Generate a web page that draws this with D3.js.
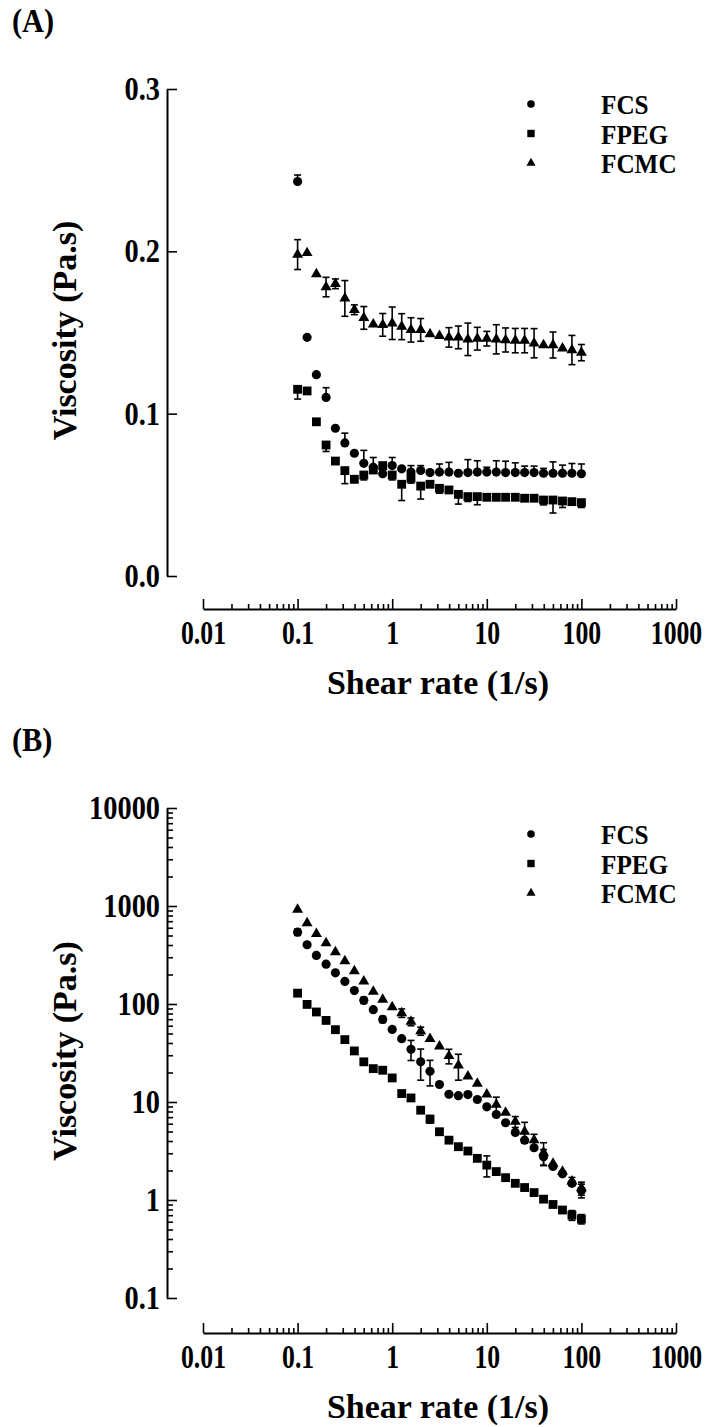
<!DOCTYPE html>
<html>
<head>
<meta charset="utf-8">
<script src="https://cdn.jsdelivr.net/npm/d3@7"></script>
<style>
  body { margin: 0; background: #fff; }
  svg { display: block; font-family: "Liberation Serif", "Times New Roman", serif; font-weight: bold; }
</style>
</head>
<body>
<div id="chart"></div>
<script>
// shear rate sweep, 10 points per decade
const shearRate = [0.1, 0.126, 0.158, 0.2, 0.251, 0.316, 0.398, 0.501, 0.631, 0.794,
  1, 1.26, 1.58, 2, 2.51, 3.16, 3.98, 5.01, 6.31, 7.94,
  10, 12.6, 15.8, 20, 25.1, 31.6, 39.8, 50.1, 63.1, 79.4, 100];
const seriesNames = ["FCS", "FPEG", "FCMC"];
const xTickValues = [0.01, 0.1, 1, 10, 100, 1000];
const xTickLabels = ["0.01", "0.1", "1", "10", "100", "1000"];
const yTicksA = [0, 0.1, 0.2, 0.3];
const yTickLabelsA = ["0.0", "0.1", "0.2", "0.3"];
const yTicksB = [0.1, 1, 10, 100, 1000, 10000];
const yTickLabelsB = ["0.1", "1", "10", "100", "1000", "10000"];

// (A) viscosity, Pa.s
const viscA_FCS = [0.243, 0.147, 0.124, 0.110, 0.091, 0.082, 0.0756, 0.0694, 0.067, 0.063,
  0.068, 0.066, 0.064, 0.065, 0.0637, 0.064, 0.064, 0.0633, 0.0637, 0.064,
  0.064, 0.064, 0.0637, 0.0637, 0.0637, 0.0637, 0.0633, 0.0633, 0.0633, 0.0633, 0.063];
const errA_FCS = [0.004, 0, 0, 0.006, 0, 0.006, 0, 0.008, 0.006, 0,
  0.005, 0, 0.004, 0.003, 0, 0.005, 0.006, 0, 0.008, 0.007,
  0.003, 0.007, 0.007, 0.006, 0.004, 0.004, 0.003, 0.007, 0.005, 0.006, 0.006];
const viscA_FPEG = [0.115, 0.114, 0.095, 0.0807, 0.0708, 0.0649, 0.0596, 0.0622, 0.0653, 0.068,
  0.0622, 0.0565, 0.0602, 0.0554, 0.0565, 0.054, 0.053, 0.0503, 0.0489, 0.0489,
  0.0485, 0.0485, 0.0485, 0.0485, 0.0479, 0.0479, 0.0468, 0.0468, 0.0462, 0.0458, 0.0452];
const errA_FPEG = [0.006, 0, 0, 0.004, 0, 0.008, 0.002, 0.003, 0, 0.003,
  0.003, 0.010, 0.003, 0.008, 0, 0.003, 0, 0.006, 0.003, 0.005,
  0, 0, 0, 0, 0, 0, 0.003, 0.008, 0.004, 0, 0.003];
const viscA_FCMC = [0.198, 0.199, 0.186, 0.178, 0.180, 0.171, 0.164, 0.159, 0.155, 0.1547,
  0.1557, 0.1536, 0.1516, 0.1516, 0.149, 0.148, 0.147, 0.147, 0.1458, 0.1462,
  0.1462, 0.1458, 0.1454, 0.1450, 0.1450, 0.1434, 0.1423, 0.1423, 0.1403, 0.1392, 0.1376];
const errA_FCMC = [0.0092, 0, 0, 0.006, 0.003, 0.011, 0.003, 0.007, 0, 0.007,
  0.010, 0.008, 0.0075, 0.007, 0, 0, 0.006, 0.007, 0.010, 0.007,
  0.0045, 0.009, 0.0074, 0.0075, 0.0075, 0.009, 0, 0.008, 0, 0.009, 0.005];

// (B) viscosity, Pa.s (log)
const viscB_FCS = [541, 402, 313, 255, 208, 170, 137, 109, 87.5, 69.6,
  55, 44.3, 34.5, 25.7, 20.6, 15.1, 12.0, 11.6, 11.9, 10.6,
  8.93, 7.46, 6.14, 4.89, 4.08, 3.41, 2.77, 2.2, 1.85, 1.48, 1.25];
const errB_FCS = [40, 0, 0, 0, 0, 0, 0, 8, 0, 5,
  0, 0, 8, 9, 6, 0, 0, 0, 0, 0,
  0, 0, 0, 0, 0, 0, 0.5, 0, 0, 0, 0.2];
const viscB_FPEG = [129, 99, 82.9, 68, 54.7, 43.3, 33.2, 25.7, 21.9, 21.1,
  17.6, 12.2, 11.0, 8.25, 6.68, 4.97, 4.08, 3.5, 3.16, 2.66,
  2.27, 1.95, 1.69, 1.48, 1.34, 1.19, 1.02, 0.90, 0.79, 0.70, 0.64];
const errB_FPEG = [0, 0, 0, 0, 0, 0, 0, 0, 0, 0,
  0, 0, 0, 0.5, 0.6, 0, 0, 0, 0, 0,
  0.55, 0, 0, 0, 0, 0, 0, 0, 0, 0.08, 0.07];
const viscB_FCMC = [919, 668, 520, 418, 338, 274, 217, 170, 134, 111,
  93, 81, 66, 53, 44, 37, 29.5, 23.7, 18.3, 15.4,
  12.0, 9.4, 7.8, 6.3, 5.0, 4.08, 3.04, 2.35, 1.95, 1.55, 1.32];
const errB_FCMC = [0, 0, 0, 0, 0, 0, 0, 0, 0, 0,
  0, 8, 6, 5, 0, 0, 5, 7, 0, 0,
  0, 1.8, 0, 0.8, 1.2, 0.6, 0.8, 0, 0, 0.15, 0.2];

const width = 724, height = 1427;
const svg = d3.select("#chart").append("svg")
  .attr("width", width)
  .attr("height", height);
svg.append("rect").attr("width", width).attr("height", height).attr("fill", "#fff");

const symbols = [d3.symbolCircle, d3.symbolSquare, d3.symbolTriangle];
const symSizes = [66, 78, 52];
const capW = 3.5;

// squeeze labels a bit, they look condensed in the original
function condense(sel, k) {
  sel.each(function() {
    const len = this.getComputedTextLength();
    d3.select(this).attr("textLength", len * k).attr("lengthAdjust", "spacingAndGlyphs");
  });
}

function minorTicks(domain) {
  const out = [];
  for (let e = Math.round(Math.log10(domain[0])); e < Math.round(Math.log10(domain[1])); e++) {
    for (let m = 2; m <= 9; m++) out.push(m * Math.pow(10, e));
  }
  return out;
}

function drawPanel(p) {
  const g = svg.append("g");
  const x = d3.scaleLog().domain([0.01, 1000]).range([203, 676]);
  const y = p.log
    ? d3.scaleLog().domain([0.1, 10000]).range([p.yBottom, p.yTop])
    : d3.scaleLinear().domain([0, 0.3]).range([p.yBottom, p.yTop]);

  // panel letter
  g.append("text").attr("x", 12).attr("y", p.yTop - 57)
    .attr("font-size", 33).text(p.label).call(condense, 0.92);

  // x axis
  const gx = g.append("g").attr("transform", `translate(0,${p.xAxisY})`);
  gx.append("g").call(d3.axisBottom(x).tickValues(minorTicks([0.01, 1000]))
      .tickSizeInner(-5).tickSizeOuter(0).tickFormat(""))
    .call(s => s.select(".domain").remove());
  gx.append("g").call(d3.axisBottom(x).tickValues(xTickValues)
      .tickSizeInner(-10).tickSizeOuter(0).tickPadding(12)
      .tickFormat((d, i) => xTickLabels[i]));
  gx.selectAll("text").attr("font-size", 33).attr("fill", "#000")
    .attr("font-family", "Liberation Serif").attr("font-weight", "bold")
    .call(condense, 0.78);
  gx.append("text").attr("x", 438).attr("y", 85).attr("text-anchor", "middle")
    .attr("font-size", 34).attr("fill", "#000").text("Shear rate (1/s)");

  // y axis
  const gy = g.append("g").attr("transform", "translate(167,0)");
  if (p.log) {
    gy.append("g").call(d3.axisLeft(y).tickValues(minorTicks([0.1, 10000]))
        .tickSizeInner(-6).tickSizeOuter(0).tickFormat(""))
      .call(s => s.select(".domain").remove());
  }
  gy.append("g").call(d3.axisLeft(y).tickValues(p.yTicks)
      .tickSizeInner(-10).tickSizeOuter(0).tickPadding(7)
      .tickFormat((d, i) => p.yTickLabels[i]));
  gy.selectAll("text").attr("font-size", 33).attr("fill", "#000")
    .attr("font-family", "Liberation Serif").attr("font-weight", "bold")
    .call(condense, 0.86);
  g.append("text")
    .attr("transform", `translate(76,${(p.yTop + p.yBottom) / 2 - 2}) rotate(-90)`)
    .attr("text-anchor", "middle").attr("font-size", 34).text("Viscosity (Pa.s)");

  svg.selectAll(".domain").attr("stroke-width", 2);
  svg.selectAll(".tick line").attr("stroke-width", 1.6);

  // error bars
  p.series.forEach((s, k) => {
    const pts = shearRate.map((r, i) => ({ r, v: s.v[i], e: s.e[i] })).filter(d => d.e > 0);
    const eb = g.append("g").attr("stroke", "#000").attr("stroke-width", 1.6);
    const lo = d => s.dir === "up" ? d.v : d.v - d.e;
    const hi = d => s.dir === "down" ? d.v : d.v + d.e;
    eb.selectAll("line.v").data(pts).join("line").attr("class", "v")
      .attr("x1", d => x(d.r)).attr("x2", d => x(d.r))
      .attr("y1", d => y(lo(d))).attr("y2", d => y(hi(d)));
    if (s.dir !== "down") {
      eb.selectAll("line.t").data(pts).join("line").attr("class", "t")
        .attr("x1", d => x(d.r) - capW).attr("x2", d => x(d.r) + capW)
        .attr("y1", d => y(hi(d))).attr("y2", d => y(hi(d)));
    }
    if (s.dir !== "up") {
      eb.selectAll("line.b").data(pts).join("line").attr("class", "b")
        .attr("x1", d => x(d.r) - capW).attr("x2", d => x(d.r) + capW)
        .attr("y1", d => y(lo(d))).attr("y2", d => y(lo(d)));
    }
  });

  // markers
  p.series.forEach((s, k) => {
    g.append("g").selectAll("path").data(shearRate.map((r, i) => ({ r, v: s.v[i] })))
      .join("path")
      .attr("transform", d => `translate(${x(d.r)},${y(d.v)})`)
      .attr("d", d3.symbol().type(symbols[k]).size(symSizes[k]))
      .attr("fill", "#000");
  });

  // legend
  const lg = g.append("g");
  seriesNames.forEach((name, k) => {
    const ly = p.legendY + k * 29.5;
    lg.append("path").attr("transform", `translate(531,${ly})`)
      .attr("d", d3.symbol().type(symbols[k]).size(symSizes[k] * 0.7)).attr("fill", "#000");
    lg.append("text").attr("x", 601).attr("y", ly).attr("dy", "0.36em")
      .attr("font-size", 28).text(name).call(condense, 0.9);
  });
}

drawPanel({
  label: "(A)", log: false, yTop: 89, yBottom: 576, xAxisY: 609, legendY: 104,
  yTicks: yTicksA, yTickLabels: yTickLabelsA,
  series: [
    { v: viscA_FCS, e: errA_FCS, dir: "up" },
    { v: viscA_FPEG, e: errA_FPEG, dir: "down" },
    { v: viscA_FCMC, e: errA_FCMC, dir: "both" }
  ]
});

drawPanel({
  label: "(B)", log: true, yTop: 808, yBottom: 1298, xAxisY: 1333, legendY: 834,
  yTicks: yTicksB, yTickLabels: yTickLabelsB,
  series: [
    { v: viscB_FCS, e: errB_FCS, dir: "both" },
    { v: viscB_FPEG, e: errB_FPEG, dir: "both" },
    { v: viscB_FCMC, e: errB_FCMC, dir: "both" }
  ]
});
</script>
</body>
</html>
